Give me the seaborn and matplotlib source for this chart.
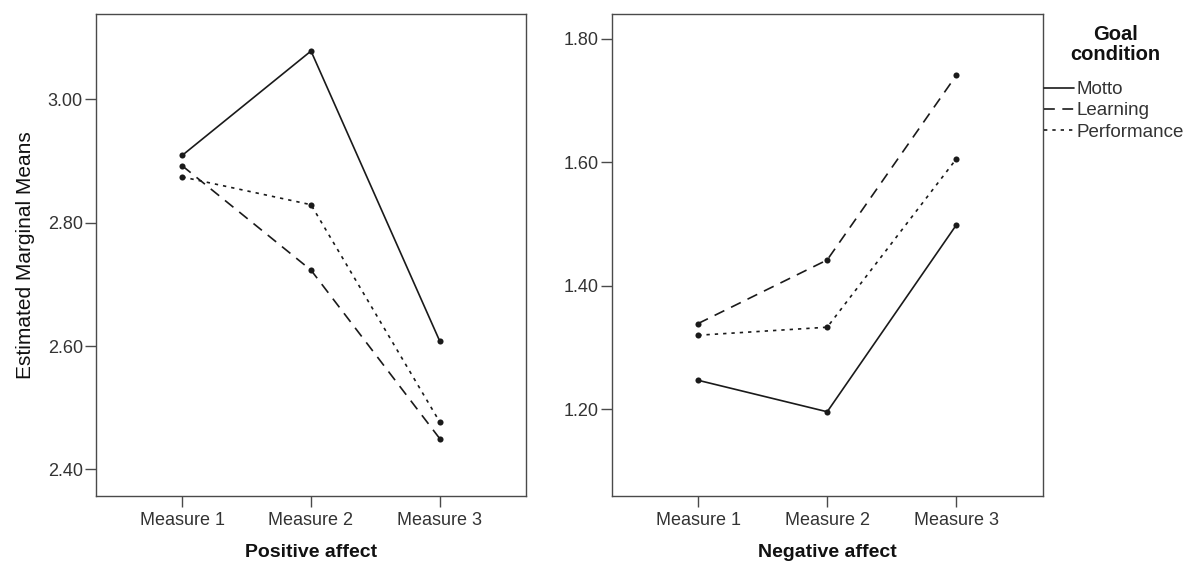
import matplotlib
matplotlib.use("Agg")
import matplotlib.pyplot as plt
from matplotlib.lines import Line2D
import seaborn as sns
import pandas as pd

measures = ["Measure 1", "Measure 2", "Measure 3"]
conditions = ["Motto", "Learning", "Performance"]

pos_motto = [2.909, 3.078, 2.608]
pos_learning = [2.892, 2.723, 2.450]
pos_performance = [2.874, 2.829, 2.477]

neg_motto = [1.247, 1.196, 1.4985]
neg_learning = [1.339, 1.442, 1.741]
neg_performance = [1.320, 1.333, 1.6055]

pos_ticks = [2.40, 2.60, 2.80, 3.00]
neg_ticks = [1.20, 1.40, 1.60, 1.80]


def long_df(m, l, p):
    rows = []
    for cond, vals in zip(conditions, [m, l, p]):
        for meas, v in zip(measures, vals):
            rows.append({"Measure": meas, "Goal condition": cond, "Mean": v})
    return pd.DataFrame(rows)


df_pos = long_df(pos_motto, pos_learning, pos_performance)
df_neg = long_df(neg_motto, neg_learning, neg_performance)

sns.set_theme(style="white")
plt.rcParams["font.family"] = ["Liberation Sans", "DejaVu Sans"]

line_col = "#1a1a1a"
frame_col = "#4a4a4a"
dashes = {"Motto": "", "Learning": (6.5, 4.5), "Performance": (2, 3)}
markers = {c: "o" for c in conditions}

fig = plt.figure(figsize=(11.88, 5.62), dpi=100)
ax1 = fig.add_axes([96 / 1188, 1 - 495.7 / 562, 430 / 1188, (495.7 - 14) / 562])
ax2 = fig.add_axes([611.7 / 1188, 1 - 495.7 / 562, 431 / 1188, (495.7 - 14) / 562])

for ax, df, ticks, ylim, xl in [
    (ax1, df_pos, pos_ticks, (2.3575, 3.138), "Positive affect"),
    (ax2, df_neg, neg_ticks, (1.06, 1.8405), "Negative affect"),
]:
    sns.lineplot(
        data=df, x="Measure", y="Mean", style="Goal condition",
        style_order=conditions, dashes=dashes, markers=markers,
        color=line_col, linewidth=1.2, markersize=4.4,
        markeredgewidth=0, legend=False, ax=ax, sort=False,
    )
    ax.set_xlim(-0.67, 2.67)
    ax.set_ylim(*ylim)
    ax.set_yticks(ticks)
    ax.set_yticklabels([f"{t:.2f}" for t in ticks])
    ax.set_xlabel(xl, fontsize=14, fontweight="bold", color="#111111", labelpad=11)
    ax.set_ylabel("")
    for s in ax.spines.values():
        s.set_visible(True)
        s.set_color(frame_col)
        s.set_linewidth(1.0)
    ax.tick_params(axis="both", which="major", direction="out", length=8,
                   width=1.0, color=frame_col, labelsize=13,
                   labelcolor="#333333", pad=1.5,
                   left=True, bottom=True, right=False, top=False)
    ax.tick_params(axis="x", pad=3.5)
    ax.grid(False)

ax1.set_ylabel("Estimated Marginal Means", fontsize=15, color="#111111", labelpad=9)

handles = [
    Line2D([], [], color=line_col, linewidth=1.2, linestyle="-"),
    Line2D([], [], color=line_col, linewidth=1.2, dashes=(6.5, 4.5)),
    Line2D([], [], color=line_col, linewidth=1.2, dashes=(2, 3)),
]
fig.text(1115 / 1188, 1 - 25 / 562, "Goal\ncondition", ha="center", va="top",
         multialignment="center", fontsize=14.5, fontweight="bold",
         color="#111111", linespacing=1.1)
leg = fig.legend(
    handles, conditions,
    loc="upper left", bbox_to_anchor=(1044 / 1188, 1 - 81 / 562),
    frameon=False, fontsize=13.5, handlelength=1.6, handletextpad=0.15,
    labelspacing=0.22, borderpad=0, borderaxespad=0,
)
for t in leg.get_texts():
    t.set_color("#333333")

fig.savefig("out.png", dpi=100)
